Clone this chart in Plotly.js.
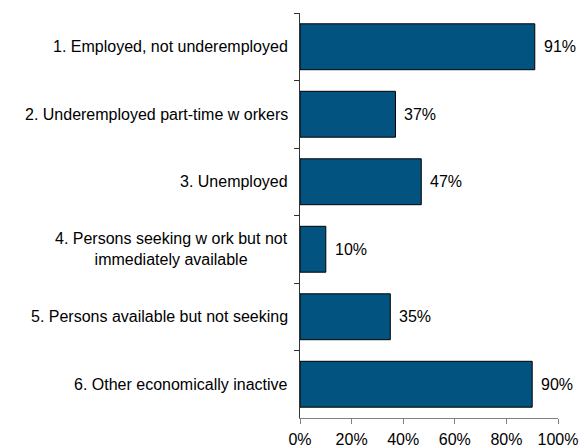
<!DOCTYPE html>
<html>
<head>
<meta charset="utf-8">
<script src="https://cdn.plot.ly/plotly-3.0.1.min.js"></script>
<style>html,body{margin:0;padding:0;background:#fff;}#chart{width:585px;height:448px;}</style>
</head>
<body>
<div id="chart"></div>
<script>
var categories = [
  "1. Employed, not underemployed",
  "2. Underemployed part-time w orkers",
  "3. Unemployed",
  "4. Persons seeking w ork but not<br>immediately available",
  "5. Persons available but not seeking",
  "6. Other economically inactive"
];
var values = [91, 37, 47, 10, 35, 90];
var tickValues = [0, 20, 40, 60, 80, 100];
var tickLabels = ["0%", "20%", "40%", "60%", "80%", "100%"];

var FONT = "Liberation Sans, Arial, sans-serif";

var trace = {
  type: "bar",
  orientation: "h",
  x: values,
  y: categories,
  marker: {color: "#035380", line: {color: "#000000", width: 1}},
  width: 0.68,
  hoverinfo: "none"
};

var annotations = [];
categories.forEach(function (c, i) {
  annotations.push({
    xref: "paper", yref: "y", x: 0, y: c,
    xanchor: "right", yanchor: "middle", xshift: -10,
    align: "center", showarrow: false, text: c,
    font: {family: FONT, size: 16, color: "#000"}
  });
  annotations.push({
    xref: "x", yref: "y", x: values[i], y: c,
    xanchor: "left", yanchor: "middle", xshift: 7,
    showarrow: false, text: values[i] + "%",
    font: {family: FONT, size: 16, color: "#000"}
  });
});

var layout = {
  width: 585, height: 448,
  margin: {l: 300, r: 27, t: 13, b: 30, pad: 0},
  paper_bgcolor: "#fff", plot_bgcolor: "#fff",
  showlegend: false,
  xaxis: {
    range: [0, 100], tickvals: tickValues, ticktext: tickLabels,
    showgrid: false, zeroline: false,
    showline: true, linecolor: "#808080", linewidth: 1,
    ticks: "outside", ticklen: 5, tickcolor: "#808080",
    tickfont: {family: FONT, size: 16, color: "#000"},
    ticklabelstandoff: 2,
    fixedrange: true
  },
  yaxis: {
    type: "category", autorange: "reversed",
    showticklabels: false, showgrid: false, zeroline: false,
    showline: true, linecolor: "#333333", linewidth: 1,
    ticks: "outside", ticklen: 5, tickcolor: "#333333",
    tickson: "boundaries",
    fixedrange: true
  },
  annotations: annotations
};

Plotly.newPlot("chart", [trace], layout, {displayModeBar: false, staticPlot: true});
</script>
</body>
</html>
